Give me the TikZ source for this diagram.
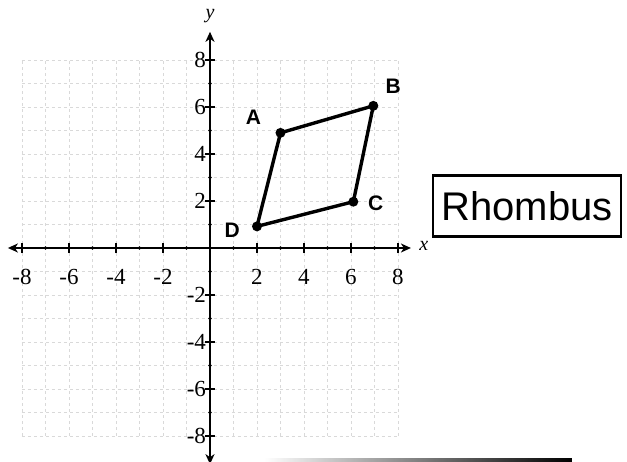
\documentclass[tikz,border=0pt]{standalone}
\usepackage{fontspec}
\setmainfont{Liberation Serif}
\newfontfamily\handfont{Liberation Sans}
\usetikzlibrary{arrows.meta}
\begin{document}
\begin{tikzpicture}[x=23.5pt,y=23.5pt,
  gridline/.style={gray!30,dashed,line width=0.6pt},
  axisline/.style={line width=2pt,{Stealth[length=10pt,width=9pt,inset=3pt]}-{Stealth[length=10pt,width=9pt,inset=3pt]}},
  majortick/.style={line width=1.5pt},
  ticklabel/.style={font=\fontsize{23}{23}\selectfont,inner sep=1pt},
  vertexlabel/.style={font=\handfont\bfseries\fontsize{21}{21}\selectfont},
  vertexdot/.style={fill=black,circle,inner sep=0pt,minimum size=10pt},
  shapeedge/.style={line width=3.4pt,line join=round},
  namebox/.style={draw,line width=2.4pt,minimum width=8.0*23.5pt,minimum height=2.6*23.5pt,font=\handfont\fontsize{40}{40}\selectfont}]
\useasboundingbox (-8.936,-9.106) rectangle (17.745,10.553);
% grid
\foreach \i in {-8,...,8} {
  \draw[gridline] (\i,-8) -- (\i,8);
  \draw[gridline] (-8,\i) -- (8,\i);
}
% axes
\coordinate (xl) at (-8.6,0);
\coordinate (xr) at (8.55,0);
\coordinate (yb) at (0,-9.2);
\coordinate (yt) at (0,9.2);
\draw[axisline] (xl) -- (xr);
\draw[axisline] (yb) -- (yt);
\node[font=\itshape\fontsize{20}{20}\selectfont] (xlab) at (9.1,0.1) {x};
\node[font=\itshape\fontsize{20}{20}\selectfont] (ylab) at (0,9.85) {y};
% ticks
\foreach \i in {-8,-6,-4,-2,2,4,6,8} {
  \draw[majortick] (\i,-0.22) -- (\i,0.22);
  \draw[majortick] (-0.22,\i) -- (0.22,\i);
}
\foreach \i in {-7,-5,-3,-1,1,3,5,7} {
  \fill (\i,0) circle (1.9pt);
  \fill (0,\i) circle (1.9pt);
}
\foreach \i in {-8,-6,-4,-2,2,4,6,8} {
  \node[ticklabel] (tx\i) at (\i,-1.25) {\i};
  \node[ticklabel,anchor=east] (ty\i) at (-0.12,\i) {\i};
}
% rhombus
\node[vertexdot] (A) at (3,4.9) {};
\node[vertexdot] (B) at (6.95,6.05) {};
\node[vertexdot] (C) at (6.1,1.97) {};
\node[vertexdot] (D) at (2,0.92) {};
\draw[shapeedge] (A.center) -- (B.center) -- (C.center) -- (D.center) -- cycle;
\node[vertexlabel] (la) at (1.85,5.55) {A};
\node[vertexlabel] (lb) at (7.8,6.9) {B};
\node[vertexlabel] (lc) at (7.05,1.9) {C};
\node[vertexlabel] (ld) at (0.95,0.75) {D};
% name box
\node[namebox] (name) at (13.49,1.79) {Rhombus};
% bottom edge strip
\shade[left color=white,right color=black] (2.3,-9.1) rectangle (15.4,-8.97);
\end{tikzpicture}
\end{document}
